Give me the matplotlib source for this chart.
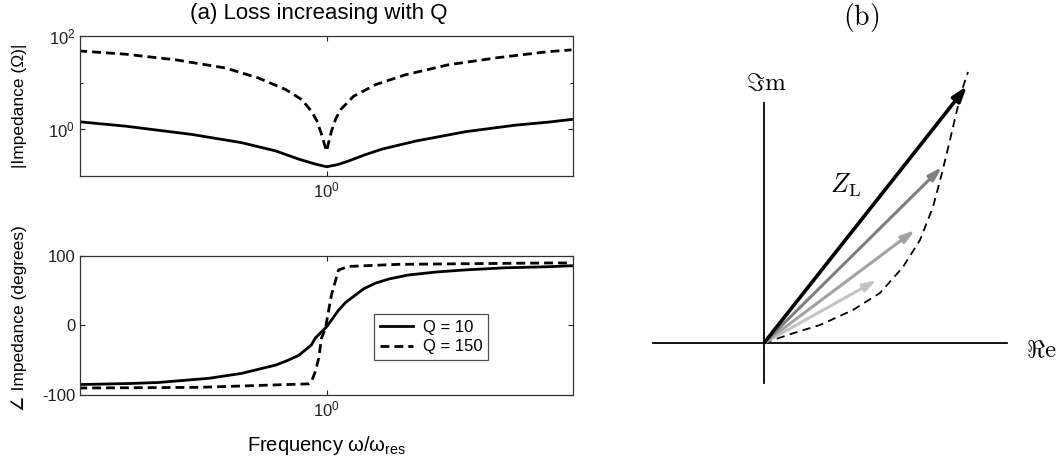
import numpy as np
import matplotlib
matplotlib.use("Agg")
import matplotlib.pyplot as plt
from matplotlib.ticker import FixedLocator, NullLocator, FixedFormatter

plt.rcParams["font.family"] = ["Liberation Sans", "DejaVu Sans"]
plt.rcParams["mathtext.fontset"] = "custom"
plt.rcParams["mathtext.rm"] = "Liberation Sans"
plt.rcParams["mathtext.it"] = "Liberation Sans:italic"
plt.rcParams["axes.unicode_minus"] = False

# --- panel (a): values ---
freq_mag_q10 = [0.638, 0.695, 0.783, 0.857, 0.912, 0.951, 0.980, 1.0, 1.02, 1.041,
                1.07, 1.105, 1.175, 1.286, 1.408, 1.495, 1.558]
mag_q10 = [1.46, 1.17, 0.78, 0.52, 0.345, 0.23, 0.18, 0.158, 0.175, 0.21,
           0.28, 0.375, 0.56, 0.89, 1.23, 1.43, 1.63]

freq_mag_q150 = [0.638, 0.695, 0.761, 0.833, 0.884, 0.929, 0.956, 0.973, 0.983, 0.991,
                 1.0, 1.009, 1.017, 1.026, 1.050, 1.093, 1.154, 1.247, 1.365, 1.495, 1.558]
mag_q150 = [48, 40.8, 30.9, 20.6, 12.6, 7.1, 4.35, 2.45, 1.5, 0.78,
            0.34, 0.92, 1.7, 2.66, 5.1, 9.1, 14.8, 24.2, 34.5, 46.3, 50.4]

freq_ph_q10 = [0.638, 0.70, 0.738, 0.808, 0.857, 0.912, 0.93, 0.951, 0.973, 0.980, 0.99,
               1.0, 1.01, 1.022, 1.035, 1.054, 1.07, 1.093, 1.12, 1.160, 1.22, 1.286,
               1.38, 1.495, 1.558]
phase_q10 = [-85, -83.5, -82, -76, -69, -57, -51, -43, -28, -18, -10,
             -2, 9, 22, 33, 44, 53, 61, 67, 72.7, 77, 80,
             83, 84.6, 86]

freq_ph_q150 = [0.638, 0.793, 0.968, 0.973, 0.980, 0.986, 0.991, 0.998,
                1.009, 1.022, 1.041, 1.139, 1.495, 1.558]
phase_q150 = [-90, -89, -84, -81, -66, -47, -18, -4,
              44, 80, 85, 88, 90, 90]

legend_labels = ["Q = 10", "Q = 150"]

# --- panel (b): phasor tips (Re, Im) and the locus ---
arrow_re = [1.13, 1.51, 1.78, 2.03]
arrow_im = [0.63, 1.13, 1.76, 2.57]
arrow_colors = ["#c4c4c4", "#a2a2a2", "#7e7e7e", "#000000"]

locus_re = [0.0, 0.29, 0.56, 0.89, 1.16, 1.39, 1.56, 1.69, 1.78, 1.86, 1.93, 1.99, 2.04]
locus_im = [0.0, 0.097, 0.18, 0.33, 0.50, 0.76, 1.03, 1.36, 1.70, 2.03, 2.33, 2.56, 2.71]

re_axis = [-1.11, 2.43]
im_axis = [-0.40, 2.40]

fig = plt.figure(figsize=(10.61, 4.70), dpi=100)

ax_mag = fig.add_axes([0.0754, 0.6255, 0.4647, 0.2979])
ax_ph = fig.add_axes([0.0754, 0.1596, 0.4647, 0.2957])

dash = (0, (3.2, 1.8))
for ax in (ax_mag, ax_ph):
    ax.set_xscale("log")
    ax.set_xlim(0.64, 1.5625)
    ax.xaxis.set_major_locator(FixedLocator([1.0]))
    ax.xaxis.set_minor_locator(NullLocator())
    ax.xaxis.set_major_formatter(FixedFormatter([r"$10^{0}$"]))
    ax.tick_params(which="both", direction="in", top=True, right=True,
                   length=3.5, width=0.8, labelsize=12, colors="#222222")
    ax.tick_params(which="minor", length=2.5)
    for s in ax.spines.values():
        s.set_linewidth(0.9)
        s.set_color("#333333")

ax_mag.plot(freq_mag_q10, mag_q10, color="black", lw=2.0)
ax_mag.plot(freq_mag_q150, mag_q150, color="black", lw=2.0, linestyle=dash)
ax_mag.set_yscale("log")
ax_mag.set_ylim(0.1, 100)
ax_mag.yaxis.set_major_locator(FixedLocator([1.0, 100.0]))
ax_mag.yaxis.set_major_formatter(FixedFormatter([r"$10^{0}$", r"$10^{2}$"]))
ax_mag.yaxis.set_minor_locator(FixedLocator([10.0]))
ax_mag.yaxis.set_minor_formatter(FixedFormatter([""]))
ax_mag.set_ylabel("|Impedance (Ω)|", fontsize=12.5)
ax_mag.yaxis.set_label_coords(-0.108, 0.5)

l1, = ax_ph.plot(freq_ph_q10, phase_q10, color="black", lw=2.0)
l2, = ax_ph.plot(freq_ph_q150, phase_q150, color="black", lw=2.0, linestyle=dash)
ax_ph.set_ylim(-100, 100)
ax_ph.set_yticks([-100, 0, 100])
ax_ph.set_ylabel("∠ Impedance (degrees)", fontsize=12.5)
ax_ph.yaxis.set_label_coords(-0.108, 0.55)
ax_ph.set_xlabel(r"Frequency ω/ω$_{\mathrm{res}}$", fontsize=14.5, labelpad=10)
leg = ax_ph.legend([l1, l2], legend_labels, loc="center",
                   bbox_to_anchor=(0.712, 0.415), fontsize=12, frameon=True,
                   fancybox=False, borderpad=0.35, handlelength=2.0,
                   labelspacing=0.25, handletextpad=0.6)
leg.get_frame().set_edgecolor("#222222")
leg.get_frame().set_linewidth(0.9)

fig.text(319 / 1061, 1 - 14 / 470, "(a) Loss increasing with Q",
         ha="center", va="center", fontsize=16)

# --- panel (b) ---
ax_b = fig.add_axes([620 / 1061, 0, 441 / 1061, 1])
ax_b.set_xlim(-1.44, 2.97)
ax_b.set_ylim(-1.27, 3.43)
ax_b.axis("off")

ax_b.plot(re_axis, [0, 0], color="black", lw=1.3)
ax_b.plot([0, 0], im_axis, color="black", lw=1.3)
ax_b.plot(locus_re, locus_im, color="black", lw=1.3, linestyle=(0, (4.5, 3)))

for re, im, c in zip(arrow_re, arrow_im, arrow_colors):
    if c == "#000000":
        lw, style = 2.6, "-|>,head_length=0.9,head_width=0.3"
    else:
        lw, style = 2.2, "-|>,head_length=0.8,head_width=0.24"
    ax_b.annotate("", xy=(re, im), xytext=(0, 0),
                  arrowprops=dict(arrowstyle=style, color=c, lw=lw,
                                  shrinkA=0, shrinkB=0))

ax_b.text(0.02, 2.60, r"$\Im\mathrm{m}$", math_fontfamily="cm",
          fontsize=18, ha="center", va="center")
ax_b.text(2.77, -0.07, r"$\Re\mathrm{e}$", math_fontfamily="cm",
          fontsize=18, ha="center", va="center")
ax_b.text(0.97, 3.25, r"$(\mathrm{b})$", math_fontfamily="cm",
          fontsize=20, ha="center", va="center")
ax_b.text(0.81, 1.58, r"$Z_\mathrm{L}$", math_fontfamily="cm",
          fontsize=19, ha="center", va="center")

fig.savefig("out.png", dpi=100)
